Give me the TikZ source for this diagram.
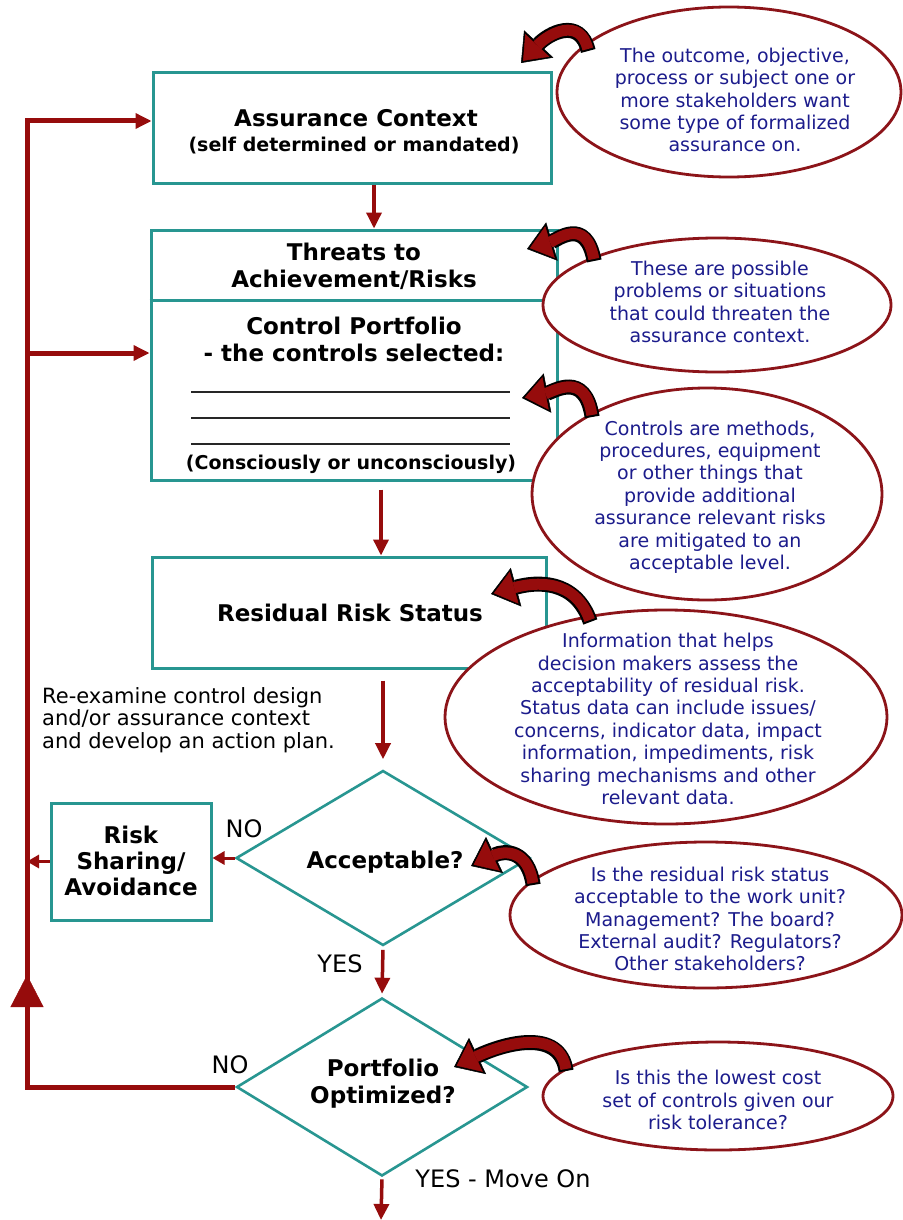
\documentclass[tikz,border=0pt]{standalone}
\usepackage{fontspec}
\setmainfont{DejaVu Sans}
\usetikzlibrary{arrows.meta,shapes.geometric,decorations.markings}
\definecolor{teal2}{RGB}{40,150,145}
\definecolor{dred}{RGB}{150,12,12}
\definecolor{ered}{RGB}{140,20,25}
\definecolor{navyt}{RGB}{28,28,140}
\newcommand\fTitle{\fontsize{23}{27}\selectfont\bfseries}
\newcommand\fSub{\fontsize{19}{23}\selectfont\bfseries}
\newcommand\fEll{\fontsize{19}{22.4}\selectfont}
\newcommand\fNote{\fontsize{21}{22.6}\selectfont}
\newcommand\fLab{\fontsize{24}{28}\selectfont}
\newcommand\curl[4]{%
  \draw[curlo] #1 .. controls #2 and #3 .. #4;
  \draw[curli] #1 .. controls #2 and #3 .. #4;}
\begin{document}
\begin{tikzpicture}[x=1pt,y=-1pt,
  pbox/.style={draw=teal2, line width=3pt, fill=white, inner sep=0pt},
  dia/.style={draw=teal2, line width=2.6pt, diamond, inner sep=0pt},
  ell/.style={draw=ered, line width=2.8pt, fill=white, ellipse, inner sep=0pt},
  etext/.style={text=navyt, align=center, font=\fEll, inner sep=0pt},
  ttext/.style={align=center, font=\fTitle, inner sep=0pt},
  arr/.style={draw=dred, line width=3.5pt, -{Triangle[length=16pt,width=15pt]}},
  sarr/.style={draw=dred, line width=3pt, -{Triangle[length=12pt,width=13pt]}},
  backline/.style={draw=dred, line width=5pt},
  curlo/.style={draw=black, line width=15pt, shorten <=-1pt, -{Triangle[length=26pt,width=40pt,line width=0.5pt]}},
  curli/.style={draw=dred, line width=11pt, shorten >=3pt, shorten <=1pt, -{Triangle[length=21pt,width=33pt,line width=0.5pt]}},
  rulel/.style={draw=black!85, line width=1.8pt},
  lab/.style={font=\fLab, inner sep=0pt}
]
\useasboundingbox[fill=white] (0,0) rectangle (902,1220);

% main boxes
\node[pbox, minimum width=398pt, minimum height=110pt] (ac) at (352,128) {};
\node[ttext] (acT) at (356,118) {Assurance Context};
\node[font=\fSub, inner sep=0pt] (acS) at (354,146) {(self determined or mandated)};

\node[pbox, minimum width=406pt, minimum height=250pt] (tc) at (354,355) {};
\coordinate (dv) at (0,300);
\draw[teal2, line width=3pt] (dv -| tc.west) -- (dv -| tc.east);
\node[ttext] (thr) at (354,266) {Threats to\\Achievement/Risks};
\node[ttext] (cp) at (354,339) {Control Portfolio\\- the controls selected:};
\draw[rulel] (191,392) -- (510,392);
\draw[rulel] (191,418) -- (510,418);
\draw[rulel] (191,444) -- (510,444);
\node[font=\fSub, inner sep=0pt] (cons) at (351,464) {(Consciously or unconsciously)};

\node[pbox, minimum width=394pt, minimum height=111pt] (rr) at (349,612.5) {};
\node[ttext] (rrT) at (350,613) {Residual Risk Status};

\node[dia, minimum width=294pt, minimum height=175pt] (d1) at (383,858) {};
\node[ttext] (d1T) at (385,862) {Acceptable?};

\node[pbox, minimum width=160pt, minimum height=117pt] (rs) at (131,861.5) {};
\node[ttext, font=\fontsize{23}{26}\selectfont\bfseries] (rsT) at (131,861) {Risk\\Sharing/\\Avoidance};

\node[dia, minimum width=291pt, minimum height=178pt] (d2) at (382,1087) {};
\node[ttext] (d2T) at (383,1084) {Portfolio\\Optimized?};

% labels
\node[font=\fNote, align=left, anchor=west, inner sep=0pt] (note) at (42,720)
  {Re-examine control design\\and/or assurance context\\and develop an action plan.};
\node[lab] (no1) at (244,829) {NO};
\node[lab] (yes1) at (340,964) {YES};
\node[lab] (no2) at (230,1065) {NO};
\node[lab] (yes2) at (503,1179) {YES - Move On};

% connectors
\coordinate (lt) at (27,121);
\coordinate (lb) at (27,353);
\coordinate (lc) at (d2.west -| lt);
\coordinate (out) at (381,1220);
\draw[arr] ([xshift=22pt]ac.south) -- ([xshift=22pt]ac.south |- tc.north);
\draw[arr] ([xshift=27pt,yshift=-8pt]tc.south) -- ([xshift=27pt]tc.south |- rr.north);
\draw[arr, shorten >=10pt] ([yshift=-11pt]rr.south -| d1.north) -- (d1.north);
\draw[arr, shorten <=3pt, shorten >=3pt] (d1.south) -- (d2.north);
\draw[arr, shorten <=2pt] (d2.south) -- (out);
\draw[sarr] (d1.west) -- (d1.west -| rs.east);
\draw[sarr] (rs.west) -- (rs.west -| lc);
\draw[backline, line join=miter] (d2.west) -- (lc) -- (lt) -- ([xshift=-12pt]lt -| ac.west);
\draw[arr] ([xshift=-14pt]lt -| ac.west) -- (lt -| ac.west);
\draw[backline] (lb) -- ([xshift=-12pt]lb -| tc.west);
\draw[arr] ([xshift=-14pt]lb -| tc.west) -- (lb -| tc.west);
\path[postaction={decorate}, decoration={markings,
  mark=at position 112pt with {\arrow[color=dred]{Triangle[length=32pt,width=33pt]}}}] (lc) -- (lt);

% explanation ellipses
\node[ell, minimum width=344pt, minimum height=170pt] (e1) at (729,92) {};
\node[etext] (t1) at (735,100) {The outcome, objective,\\process or subject one or\\more stakeholders want\\some type of formalized\\assurance on.};
\node[ell, minimum width=348pt, minimum height=134pt] (e2) at (717,305) {};
\node[etext] (t2) at (720,302) {These are possible\\problems or situations\\that could threaten the\\assurance context.};
\node[ell, minimum width=350pt, minimum height=212pt] (e3) at (707,494) {};
\node[etext] (t3) at (710,497) {Controls are methods,\\procedures, equipment\\or other things that\\provide additional\\assurance relevant risks\\are mitigated to an\\acceptable level.};
\node[ell, minimum width=442pt, minimum height=214pt] (e4) at (666,717) {};
\node[etext] (t4) at (668,719) {Information that helps\\decision makers assess the\\acceptability of residual risk.\\Status data can include issues/\\concerns, indicator data, impact\\information, impediments, risk\\sharing mechanisms and other\\relevant data.};
\node[ell, minimum width=392pt, minimum height=146pt] (e5) at (706,915) {};
\node[etext] (t5) at (710,919) {Is the residual risk status\\acceptable to the work unit?\\Management? The board?\\External audit? Regulators?\\Other stakeholders?};
\node[ell, minimum width=350pt, minimum height=108pt] (e6) at (718,1096) {};
\node[etext] (t6) at (718,1100) {Is this the lowest cost\\set of controls given our\\risk tolerance?};

% curled pointer arrows
\curl{(588,50)}{(580,16)}{(548,34)}{(521,63)}
\curl{(594,260)}{(586,216)}{(557,240)}{(527,249)}
\curl{(592,416)}{(585,370)}{(553,392)}{(522,398)}
\curl{(590,621)}{(575,578)}{(535,582)}{(491,594)}
\curl{(533,884)}{(528,850)}{(505,850)}{(471,866)}
\curl{(566,1070)}{(560,1028)}{(505,1043)}{(454,1067)}
\end{tikzpicture}
\end{document}
